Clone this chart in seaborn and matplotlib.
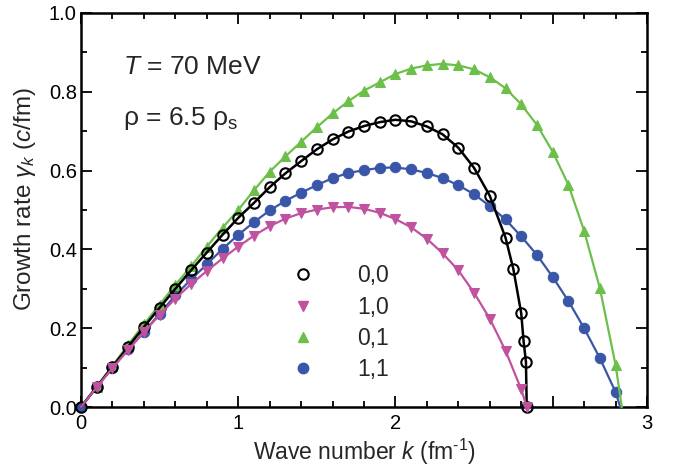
import numpy as np
import pandas as pd
import matplotlib
matplotlib.use("Agg")
import matplotlib.pyplot as plt
from matplotlib.lines import Line2D
import seaborn as sns

# ---------------- data ----------------
k00 = [0.0, 0.1, 0.2, 0.3, 0.4, 0.5, 0.6, 0.7, 0.8, 0.9, 1.0, 1.1, 1.2, 1.3, 1.4,
       1.5, 1.6, 1.7, 1.8, 1.9, 2.0, 2.1, 2.2, 2.3, 2.4, 2.5, 2.6, 2.7,
       2.75, 2.80, 2.815, 2.83, 2.835]
g00 = [0.0, 0.051, 0.102, 0.153, 0.203, 0.252, 0.300, 0.347, 0.392, 0.437, 0.480,
       0.518, 0.558, 0.593, 0.624, 0.654, 0.679, 0.699, 0.713, 0.723, 0.729, 0.725,
       0.712, 0.692, 0.658, 0.607, 0.536, 0.430, 0.350, 0.238, 0.167, 0.115, 0.0]

k10 = [0.0, 0.1, 0.2, 0.3, 0.4, 0.5, 0.6, 0.7, 0.8, 0.9, 1.0, 1.1, 1.2, 1.3, 1.4,
       1.5, 1.6, 1.7, 1.8, 1.9, 2.0, 2.1, 2.2, 2.3, 2.4, 2.5, 2.6, 2.7, 2.8, 2.835]
g10 = [0.0, 0.050, 0.099, 0.145, 0.190, 0.234, 0.275, 0.312, 0.345, 0.377, 0.407,
       0.435, 0.459, 0.478, 0.492, 0.501, 0.507, 0.508, 0.503, 0.493, 0.477, 0.456,
       0.427, 0.390, 0.347, 0.290, 0.224, 0.143, 0.045, 0.0]

k01 = [0.0, 0.1, 0.2, 0.3, 0.4, 0.5, 0.6, 0.7, 0.8, 0.9, 1.0, 1.1, 1.2, 1.3, 1.4,
       1.5, 1.6, 1.7, 1.8, 1.9, 2.0, 2.1, 2.2, 2.3, 2.4, 2.5, 2.6, 2.7, 2.8, 2.9,
       3.0, 3.1, 3.2, 3.3, 3.4, 3.44]
g01 = [0.0, 0.052, 0.105, 0.158, 0.210, 0.260, 0.310, 0.357, 0.407, 0.455, 0.500,
       0.550, 0.597, 0.636, 0.673, 0.710, 0.745, 0.776, 0.803, 0.824, 0.845, 0.859,
       0.867, 0.871, 0.867, 0.857, 0.837, 0.809, 0.768, 0.716, 0.648, 0.564, 0.447,
       0.302, 0.107, 0.0]

k11 = [0.0, 0.1, 0.2, 0.3, 0.4, 0.5, 0.6, 0.7, 0.8, 0.9, 1.0, 1.1, 1.2, 1.3, 1.4,
       1.5, 1.6, 1.7, 1.8, 1.9, 2.0, 2.1, 2.2, 2.3, 2.4, 2.5, 2.6, 2.7, 2.8, 2.9,
       3.0, 3.1, 3.2, 3.3, 3.4, 3.43]
g11 = [0.0, 0.051, 0.100, 0.146, 0.190, 0.237, 0.283, 0.324, 0.362, 0.401, 0.437,
       0.469, 0.499, 0.523, 0.544, 0.563, 0.581, 0.594, 0.601, 0.607, 0.608, 0.603,
       0.594, 0.581, 0.563, 0.540, 0.510, 0.476, 0.433, 0.386, 0.330, 0.269, 0.200,
       0.124, 0.038, 0.0]

labels = ["0,0", "1,0", "0,1", "1,1"]
x_ticks = [0, 1, 2, 3, 3.6]
x_ticklabels = ["0", "1", "2", "", "3"]
y_ticks = [0.0, 0.2, 0.4, 0.6, 0.8, 1.0]
y_ticklabels = ["0.0", "0.2", "0.4", "0.6", "0.8", "1.0"]

# ---------------- style ----------------
sns.set_theme(style="ticks")
plt.rcParams["font.family"] = ["Liberation Sans", "DejaVu Sans"]
plt.rcParams["mathtext.fontset"] = "custom"
plt.rcParams["mathtext.rm"] = "Liberation Sans"
plt.rcParams["mathtext.it"] = "Liberation Sans:italic"
plt.rcParams["mathtext.bf"] = "Liberation Sans:bold"

GREEN = "#6cc04a"
MAGENTA = "#c0529f"
BLUE = "#3a56a8"
BLACK = "#000000"
MS = 7.5

fig = plt.figure(figsize=(6.73, 4.69), dpi=100)
ax = fig.add_axes([81 / 673, 1 - 407 / 469, (647 - 81) / 673, (407 - 13) / 469])

def frame(k, g):
    return pd.DataFrame({"k": k, "g": g})

# blue (1,1)
sns.lineplot(data=frame(k11, g11), x="k", y="g", ax=ax, sort=False, estimator=None,
             color=BLUE, lw=1.6, marker="o", markersize=MS, mfc=BLUE, mec=BLUE,
             markevery=slice(0, len(k11) - 1), zorder=2, clip_on=False)
# green (0,1)
sns.lineplot(data=frame(k01, g01), x="k", y="g", ax=ax, sort=False, estimator=None,
             color=GREEN, lw=1.6, marker="^", markersize=MS, mfc=GREEN, mec=GREEN,
             markevery=slice(1, len(k01) - 1), zorder=2, clip_on=False)
# black (0,0)
sns.lineplot(data=frame(k00, g00), x="k", y="g", ax=ax, sort=False, estimator=None,
             color=BLACK, lw=1.8, marker="o", markersize=MS, mfc="none", mec=BLACK,
             mew=1.5, zorder=3, clip_on=False)
# magenta (1,0)
sns.lineplot(data=frame(k10, g10), x="k", y="g", ax=ax, sort=False, estimator=None,
             color=MAGENTA, lw=1.6, marker="v", markersize=MS, mfc=MAGENTA, mec=MAGENTA,
             markevery=slice(1, len(k10)), zorder=4, clip_on=False)

ax.set_xlim(0, 3.6)
ax.set_ylim(0, 1.0)
ax.set_xticks(x_ticks)
ax.set_xticklabels(x_ticklabels)
ax.set_xticks(np.arange(0, 3.61, 0.2), minor=True)
ax.set_yticks(y_ticks)
ax.set_yticklabels(y_ticklabels)
ax.set_yticks(np.arange(0, 1.01, 0.1), minor=True)

ax.tick_params(which="both", direction="in", top=True, right=True,
               width=1.3, colors="black", labelsize=14.5)
ax.tick_params(which="major", length=8, pad=5)
ax.tick_params(which="minor", length=4.5)
ax.tick_params(axis="y", which="major", pad=3)
for s in ax.spines.values():
    s.set_linewidth(1.8)
    s.set_color("black")
    s.set_zorder(1)

ax.set_xlabel(r"Wave number $k$ (fm$^{\text{-1}}$)", fontsize=16.5, labelpad=3)
ax.set_ylabel(r"Growth rate $\gamma_k$ ($c$/fm)", fontsize=17.5)
ax.yaxis.set_label_coords(-0.076, 0.527)

ax.text(0.074, 0.845, r"$T$ = 70 MeV", transform=ax.transAxes, fontsize=19,
        va="baseline", ha="left")
ax.text(0.074, 0.716, r"ρ = 6.5 ρ$_{\mathrm{s}}$", transform=ax.transAxes, fontsize=19,
        va="baseline", ha="left")

handles = [
    Line2D([], [], ls="none", marker="o", ms=MS, mfc="none", mec=BLACK, mew=1.5),
    Line2D([], [], ls="none", marker="v", ms=MS, mfc=MAGENTA, mec=MAGENTA),
    Line2D([], [], ls="none", marker="^", ms=MS, mfc=GREEN, mec=GREEN),
    Line2D([], [], ls="none", marker="o", ms=MS, mfc=BLUE, mec=BLUE),
]
ax.legend(handles, labels, loc="upper left", bbox_to_anchor=(0.352, 0.362),
          frameon=False, fontsize=16.5, handlelength=2.0, handletextpad=1.35,
          labelspacing=0.36, borderpad=0, borderaxespad=0)

fig.savefig("out.png", dpi=100)
